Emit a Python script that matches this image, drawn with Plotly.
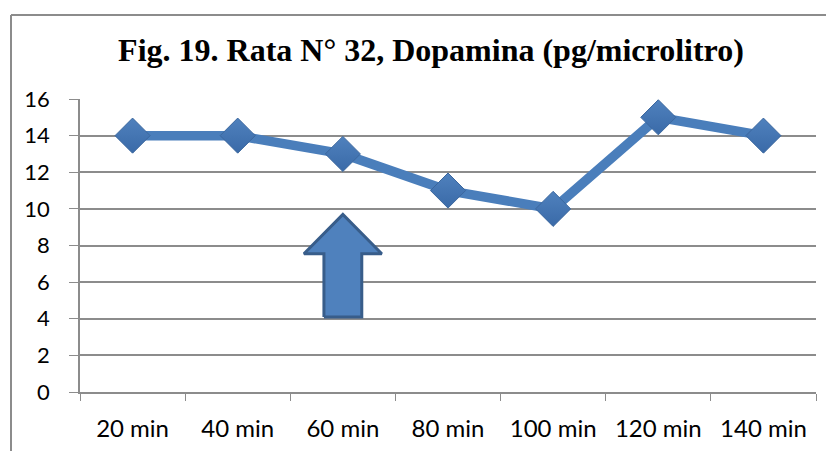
import plotly.graph_objects as go

# ---------------- Data ----------------
categories = ["20 min", "40 min", "60 min", "80 min", "100 min", "120 min", "140 min"]
dopamina = [14, 14, 13, 11, 10, 15, 14]

# arrow under the 60 min point (category index, y values)
arrow_cat = 2
arrow_tip, arrow_wing, arrow_base = 9.7, 7.55, 4.1
arrow_head_half, arrow_shaft_half = 0.37, 0.18

LINE = "#4A7EBB"
GRID = "#8C8C8C"

ax = [arrow_cat - arrow_shaft_half, arrow_cat - arrow_shaft_half, arrow_cat - arrow_head_half,
      arrow_cat, arrow_cat + arrow_head_half, arrow_cat + arrow_shaft_half,
      arrow_cat + arrow_shaft_half, arrow_cat - arrow_shaft_half]
ay = [arrow_base, arrow_wing, arrow_wing, arrow_tip, arrow_wing, arrow_wing, arrow_base, arrow_base]

fig = go.Figure()

fig.add_trace(go.Scatter(
    x=categories, y=dopamina, mode="lines+markers",
    line=dict(color=LINE, width=9.5),
    marker=dict(symbol="diamond", size=27, color="#4F81BD",
                gradient=dict(type="vertical", color="#3A6AA8"),
                line=dict(color="#3B679E", width=1)),
    showlegend=False, hoverinfo="skip",
))

fig.add_trace(go.Scatter(
    x=ax, y=ay, xaxis="x2", mode="lines", fill="toself",
    fillcolor="#4F81BD", line=dict(color="#385D8A", width=3),
    showlegend=False, hoverinfo="skip",
))

# chart frame (page coords -> paper coords of the plot area)
fx0, fx1 = (11 - 80) / 736, (834 - 80) / 736
fy0, fy1 = (392 - 460) / 293, (392 - 15) / 293

# page has an 8px body margin, so figure coords = page coords - 8
fig.update_layout(
    width=834, height=451,
    margin=dict(l=72, r=26, t=91, b=67),
    paper_bgcolor="white", plot_bgcolor="white",
    title=dict(text="<b>Fig. 19. Rata N° 32, Dopamina (pg/microlitro)</b>",
               x=(431 - 80) / 736, xref="paper", xanchor="center",
               y=1 - 42 / 451, yanchor="middle",
               font=dict(family="Liberation Serif", size=32, color="black")),
    xaxis=dict(type="category", range=[-0.5, 6.5], showgrid=False, automargin=False,
               tickson="boundaries", ticks="outside", ticklen=7, tickcolor=GRID,
               showline=True, linecolor=GRID, linewidth=1.5,
               ticklabelstandoff=14,
               tickfont=dict(family="Lato", size=24, color="black")),
    xaxis2=dict(overlaying="x", range=[-0.5, 6.5], visible=False),
    yaxis=dict(range=[0, 16], dtick=2, showgrid=True, gridcolor=GRID, gridwidth=1.5,
               automargin=False,
               ticks="outside", ticklen=9, tickcolor=GRID,
               showline=True, linecolor=GRID, linewidth=1.5,
               ticklabelstandoff=15, zeroline=False,
               tickfont=dict(family="Lato", size=22, color="black")),
    shapes=[
        dict(type="line", xref="paper", yref="paper", x0=fx0, x1=fx1, y0=fy1, y1=fy1,
             line=dict(color=GRID, width=2)),
        dict(type="line", xref="paper", yref="paper", x0=fx0, x1=fx0, y0=fy0, y1=fy1,
             line=dict(color=GRID, width=2)),
    ],
)

fig.write_html("out.html")
